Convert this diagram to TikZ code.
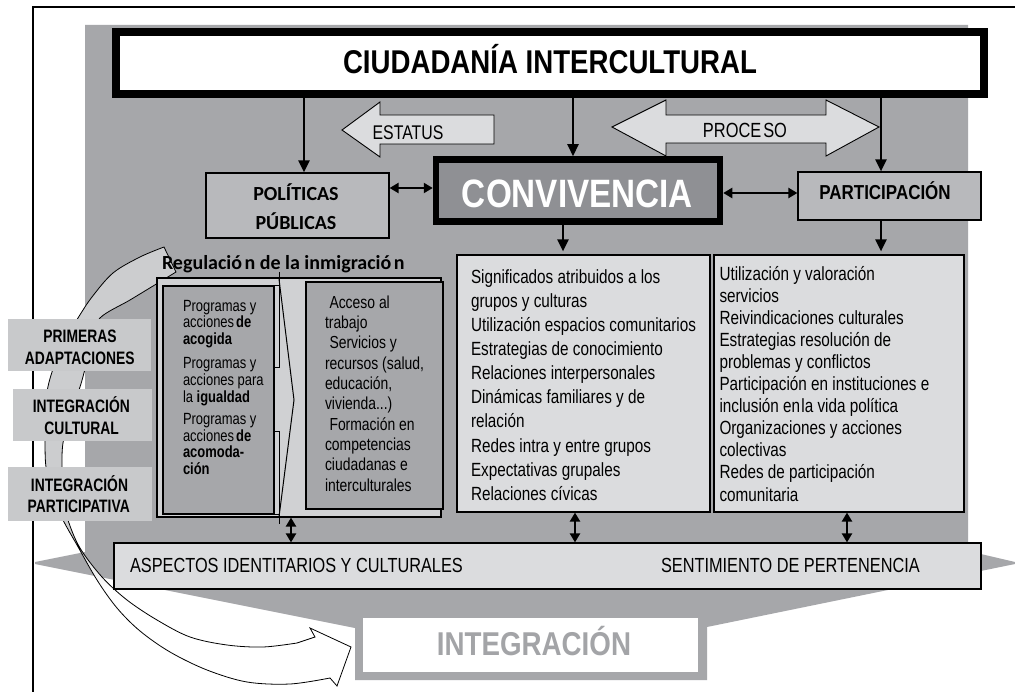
\documentclass[tikz,border=0pt]{standalone}
\usepackage{fontspec}
\setmainfont{Liberation Sans}
\newfontfamily\narrowfont[FakeStretch=0.80]{Liberation Sans}
\newfontfamily\narrowb[FakeStretch=0.84]{Liberation Sans}
\newfontfamily\narrowc[FakeStretch=0.77]{Liberation Sans}
\newfontfamily\calfont{Carlito}
\usetikzlibrary{arrows.meta}
\newcommand{\myfs}[2]{\fontsize{#1}{#2}\selectfont}
\newcommand{\myboldnarrow}{\narrowb\bfseries}
\definecolor{bggray}{RGB}{166,167,170}
\definecolor{boxgray}{RGB}{184,185,188}
\definecolor{convgray}{RGB}{143,144,148}
\definecolor{labgray}{RGB}{200,201,203}
\definecolor{lightfill}{RGB}{219,220,222}
\definecolor{reggray}{RGB}{208,209,211}
\definecolor{bandgray}{RGB}{204,205,207}
\definecolor{intgray}{RGB}{163,164,167}
\pgfdeclareverticalshading{bandshade}{100bp}{color(0bp)=(white); color(36bp)=(white); color(42bp)=(bandgray); color(100bp)=(bandgray)}
\begin{document}
\begin{tikzpicture}[x=1pt,y=-1pt,
  txt/.style={inner sep=0pt,outer sep=0pt},
  rbox/.style={draw=black,line width=1.2pt,inner sep=0pt},
  labbox/.style={fill=labgray,inner sep=0pt,outer sep=0pt},
  labtxt/.style={txt,anchor=base,font=\narrowc\bfseries\myfs{18}{20}},
  arr/.style={line width=2.2pt,-{Triangle[length=12pt,width=11pt]}},
  dbl/.style={line width=2.2pt,{Triangle[length=9pt,width=10pt]}-{Triangle[length=9pt,width=10pt]}},
  blockarrow/.style={draw=black,line width=0.9pt,fill=lightfill,line join=miter}]
\useasboundingbox (0,0) rectangle (1015,692);
\fill[white] (0,0) rectangle (1015,692);
% gray background funnel
\fill[bggray] (85,25) -- (968,25) -- (968,551) -- (1015,562) -- (1015,564) -- (707,627) -- (707,680) -- (355,680) -- (355,628) -- (35,564) -- (35,562) -- (85,552) -- cycle;
% frame
\draw[line width=1.3pt] (33,692) -- (33,7) -- (1015,7);
% curved band arrow
\shadedraw[shading=bandshade,draw=black,line width=0.8pt,line join=miter]
  plot[smooth,tension=0.55] coordinates {(164,247) (140,257) (113,273) (92,297) (78,318) (62,345) (52,372) (47,392) (45,418) (45,443) (46,467) (52,495) (63,520) (77,545) (97,580) (117,608) (140,631) (170,652) (207,670) (247,682) (290,684) (330,678)}
  -- (337,686) -- (351,647) -- (310,628) -- (315,637)
  -- plot[smooth,tension=0.55] coordinates {(297,643) (263,647) (227,645) (190,637) (157,620) (127,600) (102,577) (80,548) (68,520) (63,495) (62,467) (63,443) (70,415) (80,387) (86,365) (92,340) (100,318) (130,300) (158,283) (176,272)}
  -- cycle;
% integracion box
\node[fill=white,inner sep=0pt,minimum width=335pt,minimum height=54pt] (integ) at (530.5,645) {};
\node[txt,anchor=base,text=intgray] (tinteg) at (534,655) {\myboldnarrow\myfs{33}{36}INTEGRACIÓN};
% title
\node[draw=black,fill=white,line width=8pt,inner sep=0pt,minimum width=868pt,minimum height=62pt] (title) at (550,63) {};
\node[txt,anchor=base] (ttitle) at (550,73.3) {\myboldnarrow\myfs{32.9}{36}CIUDADANÍA INTERCULTURAL};
% block arrows
\filldraw[blockarrow] (342,130) -- (380,102) -- (380,115) -- (494,115) -- (494,144) -- (380,144) -- (380,157) -- cycle;
\node[txt,anchor=base] (testatus) at (408,139.3) {\narrowfont\myfs{19.8}{22}ESTATUS};
\filldraw[blockarrow] (612,127) -- (666,100) -- (666,115) -- (826,115) -- (826,100) -- (879,127) -- (826,156) -- (826,143) -- (666,143) -- (666,156) -- cycle;
\node[txt,anchor=base] (tproceso) at (745,137.3) {\narrowfont\myfs{20.5}{22}PROCE\kern2pt SO};
% second row boxes
\node[rbox,fill=boxgray,minimum width=183pt,minimum height=65pt] (pol) at (297.5,205.5) {};
\node[txt,anchor=base] (tpol1) at (296,201) {\calfont\bfseries\myfs{20}{24}POLÍTICAS};
\node[txt,anchor=base] (tpol2) at (296,230) {\calfont\bfseries\myfs{20}{24}PÚBLICAS};
\node[draw=black,fill=convgray,line width=6.5pt,inner sep=0pt,minimum width=284pt,minimum height=62pt] (conv) at (578,190.5) {};
\node[txt,anchor=base,text=white] (tconv) at (577.5,207.3) {\myboldnarrow\myfs{39.6}{44}CONVIVENCIA};
\node[rbox,fill=boxgray,minimum width=183pt,minimum height=48pt] (part) at (889.5,196) {};
\node[txt,anchor=base] (tpart) at (885,199.5) {\myboldnarrow\myfs{20.2}{24}PARTICIPACIÓN};
% connectors top
\draw[arr] (title.south -| 304,0) -- (pol.north -| 304,0);
\draw[arr] (title.south -| 573,0) -- (conv.north -| 573,0);
\draw[arr] (title.south -| 881,0) -- (part.north -| 881,0);
\draw[dbl] (pol.east |- 0,188) -- (conv.west |- 0,188);
\draw[dbl] (conv.east |- 0,193) -- (part.west |- 0,193);
% Regulacion group
\node[txt,anchor=base west] (treg) at (162,270) {\calfont\bfseries\myfs{20}{22}Regulació\kern2.5pt n de la inmigració\kern2.5pt n};
\node[rbox,fill=reggray,minimum width=284pt,minimum height=239pt] (reg) at (299,397.5) {};
\node[rbox,fill=bggray,minimum width=137pt,minimum height=227pt] (regR) at (374.5,395.5) {};
\node[rbox,fill=bggray,minimum width=111pt,minimum height=228pt] (regL) at (218.5,400) {};
\filldraw[fill=reggray,draw=black,line width=1pt] (274,286) rectangle (279,368);
\filldraw[fill=reggray,draw=black,line width=1pt] (274,432) rectangle (279,514);
\draw[line width=1pt] (279,272) -- (279,286);
\draw[line width=1pt] (279,514) -- (279,524);
\draw[line width=1pt] (279,279) -- (294,400) -- (279,517);
\node[txt,anchor=north west,align=left,font=\narrowfont\myfs{16.2}{16.7}] (tregL) at (183,295) {\rule{0pt}{16pt}Programas y\\acciones\kern2pt\textbf{de}\\\textbf{acogida}\\[7.6pt]Programas y\\acciones para\\la \textbf{igualdad}\\[5.6pt]Programas y\\acciones\kern2pt\textbf{de}\\\textbf{acomoda-}\\\textbf{ción}};
\node[txt,anchor=north west,align=left,font=\narrowfont\myfs{17.4}{20.3}] (tregR) at (325,290.3) {\rule{0pt}{18pt}\hspace*{4.5pt}Acceso al\\trabajo\\\hspace*{4.5pt}Servicios y\\recursos (salud,\\educación,\\vivienda...)\\\hspace*{4.5pt}Formación en\\competencias\\ciudadanas e\\interculturales};
% lists
\node[rbox,fill=lightfill,minimum width=253pt,minimum height=257pt] (listM) at (583.5,383.5) {};
\node[rbox,fill=lightfill,minimum width=250pt,minimum height=257pt] (listP) at (839,383.5) {};
\node[txt,anchor=north west,align=left,font=\narrowfont\myfs{19.1}{24.1}] (tlistM) at (471,263.3) {\rule{0pt}{20pt}Significados atribuidos a los\\grupos y culturas\\Utilización espacios comunitarios\\Estrategias de conocimiento\\Relaciones interpersonales\\Dinámicas familiares y de\\relación\\Redes intra y entre grupos\\Expectativas grupales\\Relaciones cívicas};
\node[txt,anchor=north west,align=left,font=\narrowfont\myfs{19.1}{22.1}] (tlistP) at (719.5,260) {\rule{0pt}{20pt}Utilización y valoración\\servicios\\Reivindicaciones culturales\\Estrategias resolución de\\problemas y conflictos\\Participación en instituciones e\\inclusión en\kern-3pt\ la vida política\\Organizaciones y acciones\\colectivas\\Redes de participación\\comunitaria};
\draw[arr,shorten >=3pt] (conv.south -| 563,0) -- (listM.north -| 563,0);
\draw[arr,shorten >=3pt] (part.south -| 881,0) -- (listP.north -| 881,0);
% bar
\node[rbox,fill=lightfill,minimum width=867pt,minimum height=46pt] (bar) at (547.5,566) {};
\node[txt,anchor=base west] (tbar1) at (130,572.5) {\narrowfont\myfs{20.4}{22}ASPECTOS IDENTITARIOS Y CULTURALES};
\node[txt,anchor=base west] (tbar2) at (661,572.5) {\narrowfont\myfs{20.4}{22}SENTIMIENTO DE PERTENENCIA};
\draw[dbl] (reg.south -| 291,0) -- (bar.north -| 291,0);
\draw[dbl] (listM.south -| 575,0) -- (bar.north -| 575,0);
\draw[dbl] (listP.south -| 847,0) -- (bar.north -| 847,0);
% left labels
\node[labbox,minimum width=143pt,minimum height=52pt] (lab1) at (79.5,345) {};
\node[labtxt] (tlab1a) at (80,343) {PRIMERAS};
\node[labtxt] (tlab1b) at (79.7,364.5) {ADAPTACIONES};
\node[labbox,minimum width=139pt,minimum height=52pt] (lab2) at (82.5,415) {};
\node[labtxt] (tlab2a) at (81.3,413) {INTEGRACIÓN};
\node[labtxt] (tlab2b) at (81.7,434.8) {CULTURAL};
\node[labbox,minimum width=144pt,minimum height=54pt] (lab3) at (80,494) {};
\node[labtxt] (tlab3a) at (79.5,491) {INTEGRACIÓN};
\node[labtxt] (tlab3b) at (78.7,512.8) {PARTICIPATIVA};
\end{tikzpicture}
\end{document}
